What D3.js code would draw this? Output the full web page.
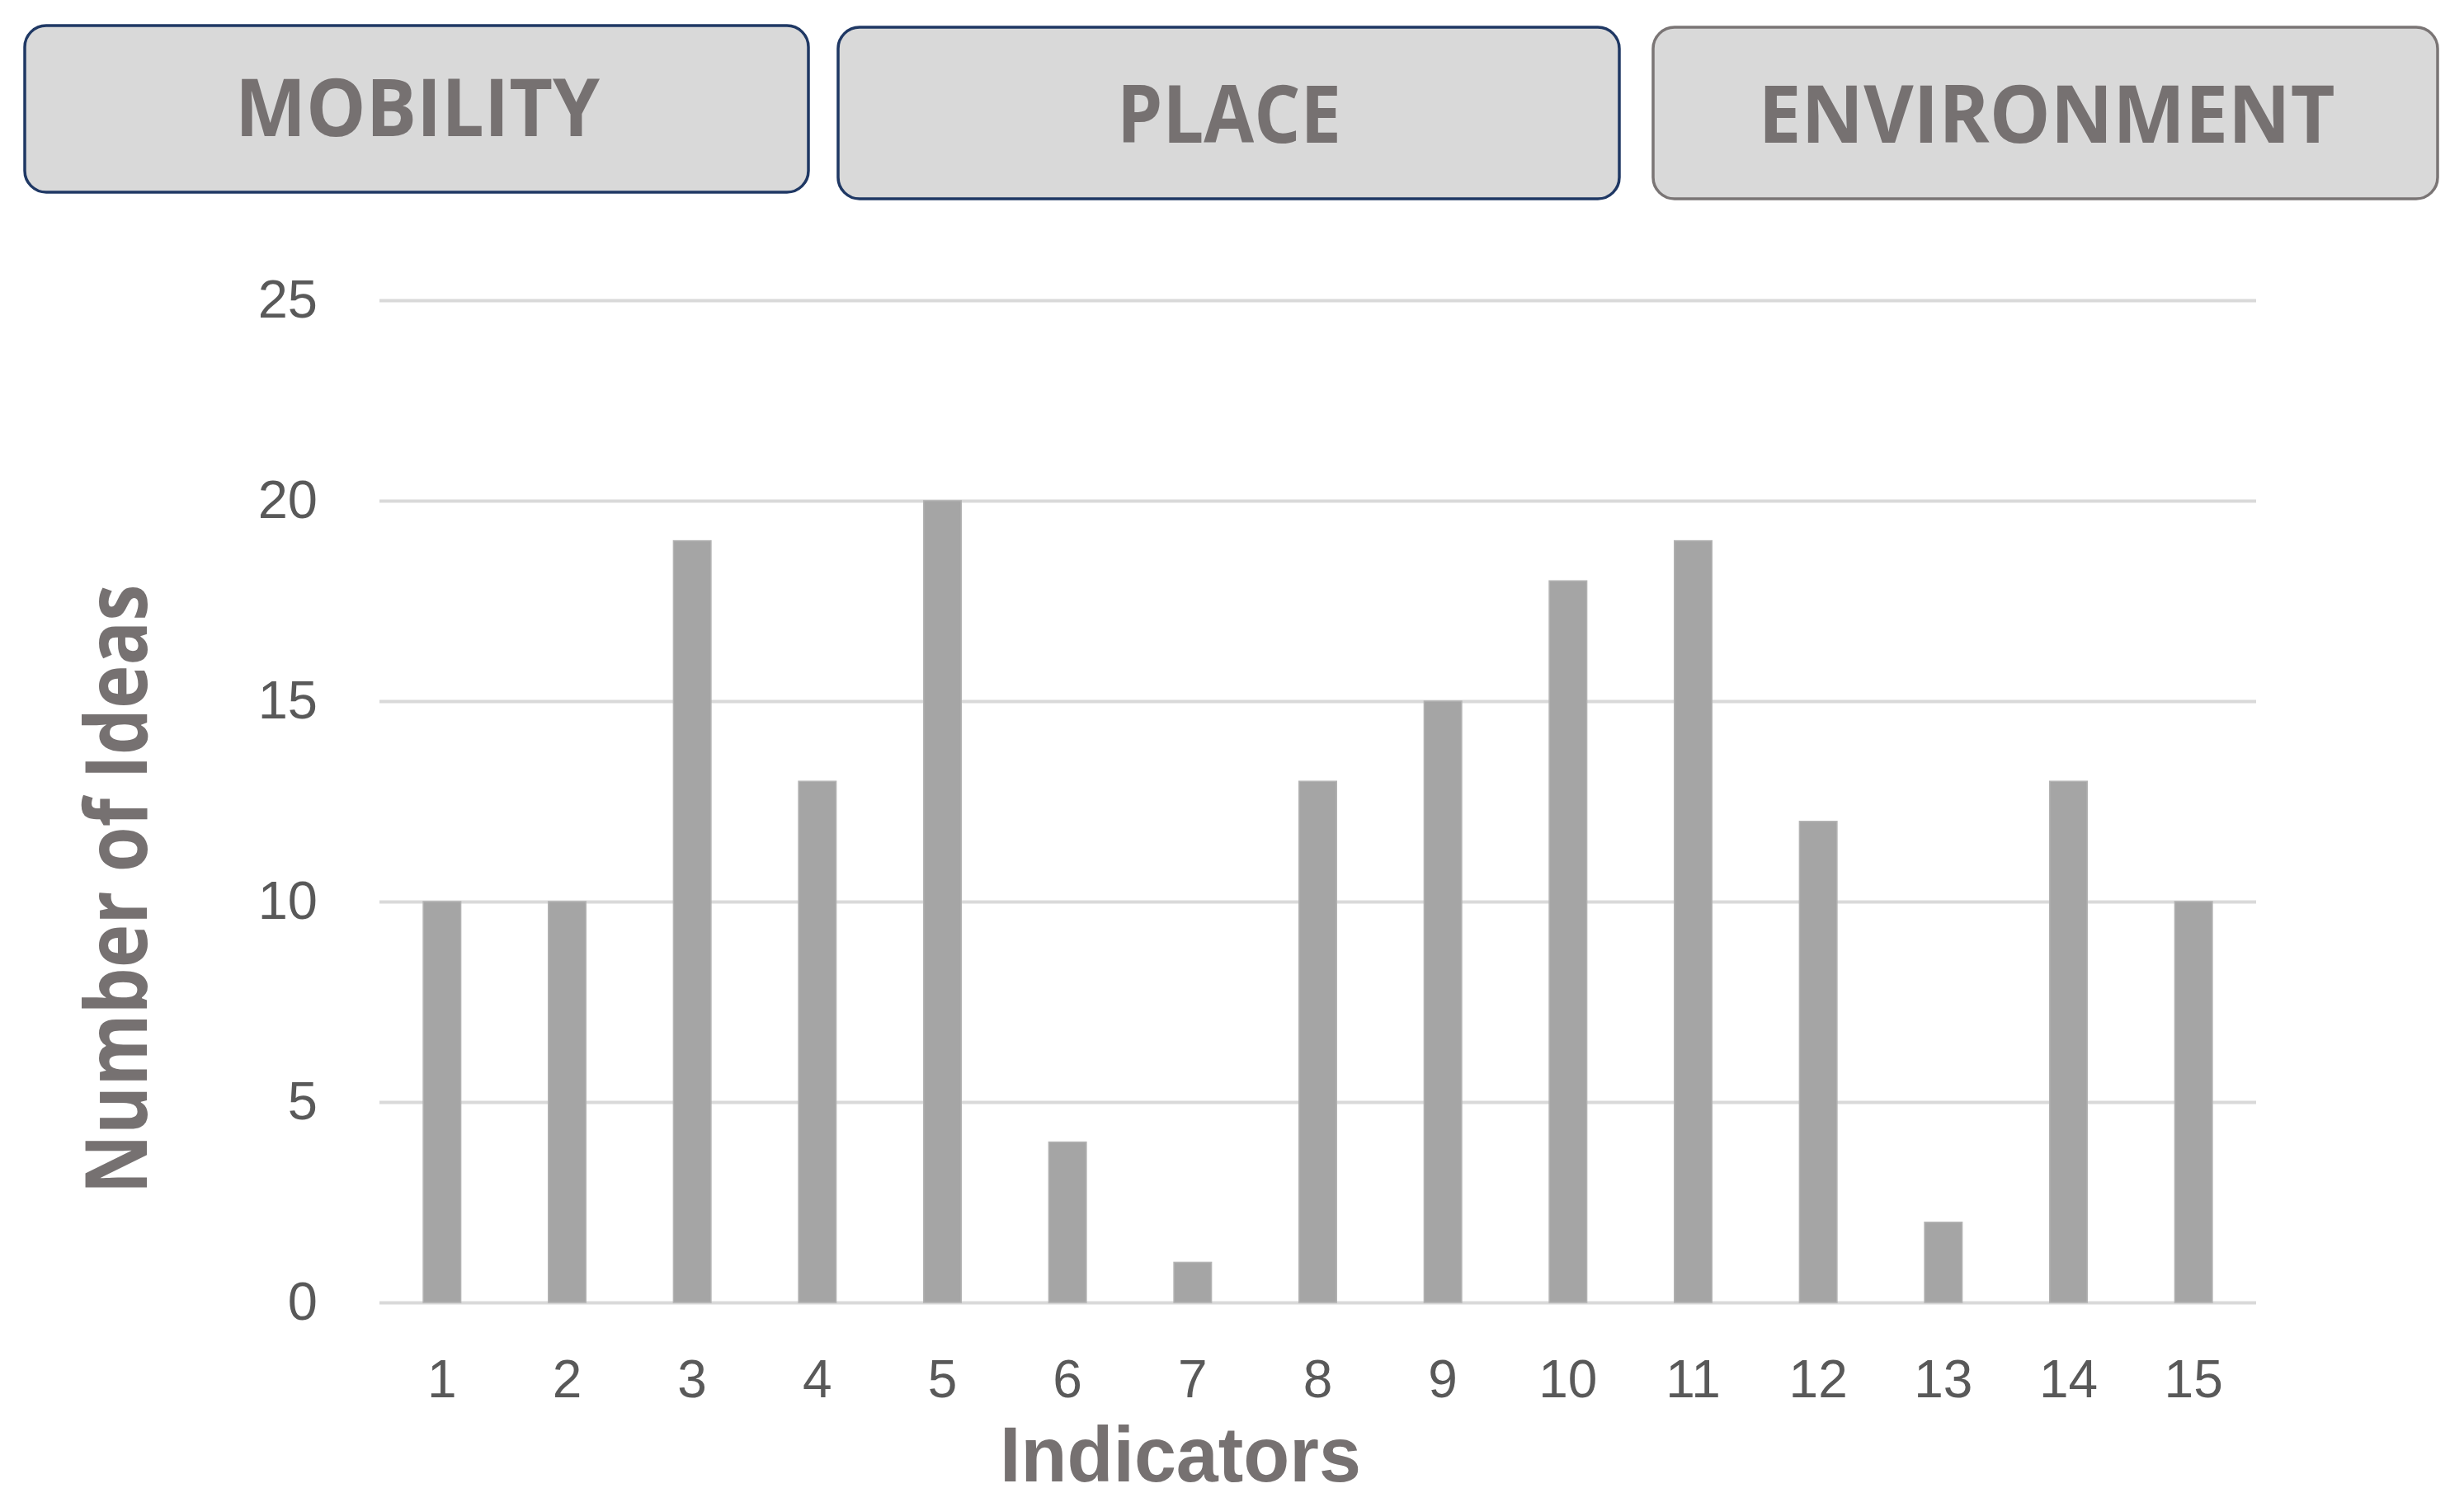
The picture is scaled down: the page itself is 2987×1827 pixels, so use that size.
<!DOCTYPE html>
<html>
<head>
<meta charset="utf-8">
<script src="https://cdn.jsdelivr.net/npm/d3@7"></script>
<style>
  html, body { margin: 0; padding: 0; background: #ffffff; }
  svg { display: block; }
</style>
</head>
<body>
<script>
// ---- data ----
const indicators = ["1","2","3","4","5","6","7","8","9","10","11","12","13","14","15"];
const ideas = [10, 10, 19, 13, 20, 4, 1, 13, 15, 18, 19, 12, 2, 13, 10];
const yTicks = [0, 5, 10, 15, 20, 25];
const groups = ["MOBILITY", "PLACE", "ENVIRONMENT"];
const xTitle = "Indicators";
const yTitle = "Number of Ideas";

// ---- layout ----
const W = 2987, H = 1827;
const plot = { left: 460, right: 2735, top: 364, bottom: 1579 };
const textColor = "#767171";

const svg = d3.select("body").append("svg")
  .attr("width", W).attr("height", H);

// header boxes
const boxes = [
  { x0: 30,   x1: 980,  y0: 31, y1: 233, stroke: "#1f3864", tx: 506,  ty: 165, tl: 442 },
  { x0: 1016, x1: 1963, y0: 33, y1: 241, stroke: "#1f3864", tx: 1490, ty: 173, tl: 272 },
  { x0: 2004, x1: 2955, y0: 33, y1: 241, stroke: "#7a7575", tx: 2481, ty: 173, tl: 699 }
];
const hdr = svg.append("g").selectAll("g").data(groups).join("g");
hdr.append("rect")
  .attr("x", (d, i) => boxes[i].x0)
  .attr("y", (d, i) => boxes[i].y0)
  .attr("width", (d, i) => boxes[i].x1 - boxes[i].x0)
  .attr("height", (d, i) => boxes[i].y1 - boxes[i].y0)
  .attr("rx", 26).attr("ry", 26)
  .attr("fill", "#d9d9d9")
  .attr("stroke", (d, i) => boxes[i].stroke)
  .attr("stroke-width", 3.5);
hdr.append("text")
  .attr("x", (d, i) => boxes[i].tx)
  .attr("y", (d, i) => boxes[i].ty)
  .attr("text-anchor", "middle")
  .attr("font-family", "'Open Sans', 'Liberation Sans', sans-serif")
  .attr("font-weight", 700)
  .attr("font-size", 97)
  .attr("fill", textColor)
  .attr("textLength", (d, i) => boxes[i].tl)
  .attr("lengthAdjust", "spacingAndGlyphs")
  .text(d => d);

// scales
const x = d3.scaleBand()
  .domain(indicators)
  .range([plot.left, plot.right])
  .paddingInner(0.7)
  .paddingOuter(0.35);

const y = d3.scaleLinear()
  .domain([0, 25])
  .range([plot.bottom, plot.top]);

// y axis with gridlines
const yAxis = svg.append("g")
  .attr("transform", `translate(${plot.left},0)`)
  .call(d3.axisLeft(y).tickValues(yTicks).tickSize(-(plot.right - plot.left)).tickPadding(75));
yAxis.select(".domain").remove();
yAxis.selectAll(".tick line").attr("stroke", "#d9d9d9").attr("stroke-width", 4);
yAxis.selectAll(".tick text")
  .attr("font-family", "'Liberation Sans', Arial, sans-serif")
  .attr("font-size", 65)
  .attr("fill", "#595959");

// bars
svg.append("g").selectAll("rect").data(ideas).join("rect")
  .attr("x", (d, i) => x(indicators[i]))
  .attr("y", d => y(d))
  .attr("width", x.bandwidth())
  .attr("height", d => y(0) - y(d))
  .attr("fill", "#a5a5a5")
  .attr("stroke", "#b3b3b3")
  .attr("stroke-width", 1.5);

// x axis
const xAxis = svg.append("g")
  .attr("transform", `translate(0,${plot.bottom})`)
  .call(d3.axisBottom(x).tickSize(0));
xAxis.select(".domain").remove();
xAxis.selectAll(".tick text")
  .attr("y", 115).attr("dy", 0)
  .attr("font-family", "'Liberation Sans Narrow', 'Arial Narrow', 'Liberation Sans', sans-serif")
  .attr("font-size", 64)
  .attr("fill", "#595959");

// axis titles
svg.append("text")
  .attr("x", 1431)
  .attr("y", 1796)
  .attr("text-anchor", "middle")
  .attr("font-family", "'Liberation Sans', Arial, sans-serif")
  .attr("font-weight", 700)
  .attr("font-size", 94)
  .attr("fill", textColor)
  .attr("textLength", 438)
  .attr("lengthAdjust", "spacingAndGlyphs")
  .text(xTitle);

svg.append("text")
  .attr("transform", "translate(178,1078) rotate(-90)")
  .attr("text-anchor", "middle")
  .attr("font-family", "'Open Sans', 'Liberation Sans', sans-serif")
  .attr("font-weight", 700)
  .attr("font-size", 104)
  .attr("fill", textColor)
  .attr("textLength", 739)
  .attr("lengthAdjust", "spacingAndGlyphs")
  .text(yTitle);
</script>
</body>
</html>
